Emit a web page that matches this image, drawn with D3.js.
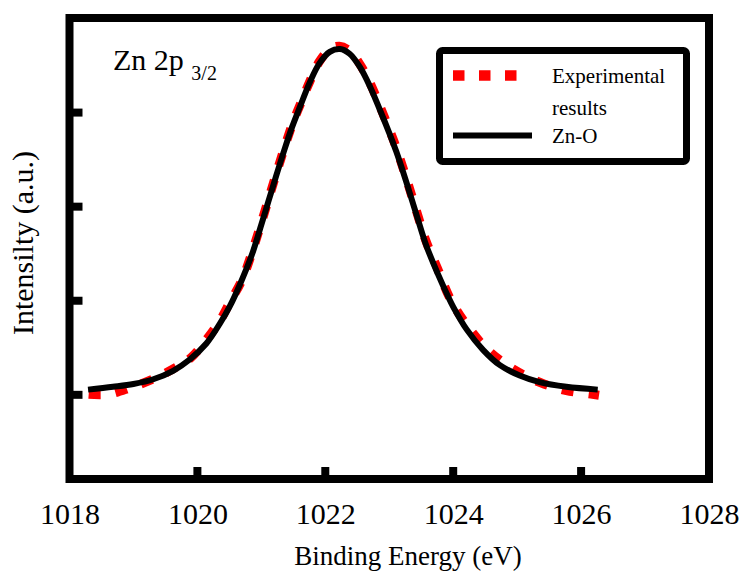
<!DOCTYPE html>
<html>
<head>
<meta charset="utf-8">
<script src="https://cdn.jsdelivr.net/npm/d3@7/dist/d3.min.js"></script>
</head>
<body style="margin:0">
<div id="chart"></div>
<script>
// x tick labels and tick marks
var xLabels = [1018, 1020, 1022, 1024, 1026, 1028];
var xTicks = [1020, 1022, 1024, 1026];
var yTicks = [1, 2, 3, 4];

// Zn-O fit (binding energy, intensity a.u.)
var fitE = [1018.29, 1018.68, 1019.00, 1019.31, 1019.62, 1019.88, 1020.14, 1020.35, 1020.51, 1020.66,
            1020.85, 1020.98, 1021.11, 1021.24, 1021.37, 1021.48, 1021.60, 1021.76, 1021.91, 1022.07,
            1022.23, 1022.38, 1022.54, 1022.70, 1022.85, 1023.01, 1023.11, 1023.27, 1023.43, 1023.58,
            1023.76, 1023.92, 1024.00, 1024.21, 1024.47, 1024.73, 1025.04, 1025.35, 1025.77, 1026.26];
var fitI = [1.05, 1.08, 1.11, 1.16, 1.25, 1.37, 1.54, 1.75, 1.94, 2.16,
            2.48, 2.76, 3.05, 3.34, 3.62, 3.84, 4.05, 4.32, 4.52, 4.64,
            4.67, 4.62, 4.48, 4.27, 4.03, 3.76, 3.58, 3.25, 2.90, 2.58,
            2.28, 2.04, 1.93, 1.69, 1.47, 1.31, 1.20, 1.13, 1.08, 1.05];

// experimental results
var expE = [1018.30, 1018.60, 1018.95, 1019.30, 1019.62, 1019.90, 1020.14, 1020.35, 1020.51, 1020.70,
            1020.85, 1020.98, 1021.11, 1021.24, 1021.37, 1021.50, 1021.62, 1021.76, 1021.91, 1022.07,
            1022.22, 1022.38, 1022.54, 1022.70, 1022.85, 1023.01, 1023.11, 1023.27, 1023.43, 1023.58,
            1023.76, 1023.95, 1024.23, 1024.56, 1024.96, 1025.38, 1025.77, 1026.18, 1026.28];
var expI = [1.00, 1.00, 1.07, 1.16, 1.27, 1.39, 1.58, 1.78, 1.98, 2.22,
            2.50, 2.78, 3.07, 3.36, 3.64, 3.90, 4.10, 4.33, 4.54, 4.67,
            4.70, 4.65, 4.51, 4.31, 4.07, 3.80, 3.62, 3.29, 2.94, 2.62,
            2.33, 2.02, 1.72, 1.46, 1.26, 1.12, 1.04, 1.00, 0.99];

var width = 742, height = 573;
var mLeft = 69.5, mRight = 709, mTop = 18, mBottom = 479;

var svg = d3.select("#chart").append("svg")
  .attr("width", width)
  .attr("height", height)
  .attr("font-family", "Liberation Serif");

var x = d3.scaleLinear().domain([1018, 1028]).range([mLeft, mRight]);
var y = d3.scaleLinear().domain([0.1, 5]).range([mBottom, mTop]);

// curves
var line = d3.line()
  .x(function(d) { return x(d[0]); })
  .y(function(d) { return y(d[1]); })
  .curve(d3.curveCatmullRom);

var expData = expE.map(function(e, i) { return [e, expI[i]]; });
var fitData = fitE.map(function(e, i) { return [e, fitI[i]]; });

svg.append("path")
  .datum(expData)
  .attr("d", line)
  .attr("fill", "none")
  .attr("stroke", "#ff0000")
  .attr("stroke-width", 9)
  .attr("stroke-dasharray", "12,15");

svg.append("path")
  .datum(fitData)
  .attr("d", line)
  .attr("fill", "none")
  .attr("stroke", "#000")
  .attr("stroke-width", 6);

// x tick labels, drawn by the axis
var xAxis = d3.axisBottom(x).tickValues(xLabels).tickSize(0).tickPadding(24)
  .tickFormat(d3.format("d"));
var gx = svg.append("g")
  .attr("transform", "translate(0," + mBottom + ")")
  .call(xAxis);
gx.attr("font-family", "Liberation Serif").attr("font-size", 30);
gx.select(".domain").remove();
gx.selectAll("text").attr("fill", "#000").attr("font-family", "Liberation Serif");

// inward tick marks
svg.append("g").selectAll("line")
  .data(xTicks).enter().append("line")
  .attr("x1", function(d) { return x(d); })
  .attr("x2", function(d) { return x(d); })
  .attr("y1", mBottom)
  .attr("y2", mBottom - 12)
  .attr("stroke", "#000")
  .attr("stroke-width", 8);

var yAxis = d3.axisLeft(y).tickValues(yTicks).tickSize(-13).tickFormat("");
var gy = svg.append("g")
  .attr("transform", "translate(" + mLeft + ",0)")
  .call(yAxis);
gy.select(".domain").remove();
gy.selectAll("line").attr("stroke", "#000").attr("stroke-width", 8);

// frame
svg.append("rect")
  .attr("x", mLeft).attr("y", mTop)
  .attr("width", mRight - mLeft).attr("height", mBottom - mTop)
  .attr("fill", "none")
  .attr("stroke", "#000")
  .attr("stroke-width", 8);

// axis titles
svg.append("text")
  .attr("x", 408).attr("y", 565)
  .attr("text-anchor", "middle")
  .attr("font-family", "Liberation Serif")
  .attr("font-size", 27)
  .text("Binding Energy (eV)");

svg.append("text")
  .attr("transform", "translate(33,243) rotate(-90)")
  .attr("text-anchor", "middle")
  .attr("font-family", "Liberation Serif")
  .attr("font-size", 30)
  .text("Intensilty (a.u.)");

// peak label
var lbl = svg.append("text")
  .attr("x", 113).attr("y", 70)
  .attr("font-family", "Liberation Serif")
  .attr("font-size", 30);
lbl.append("tspan").text("Zn 2p ");
lbl.append("tspan").attr("dy", 10).attr("font-size", 20).text("3/2");

// legend
svg.append("rect")
  .attr("x", 439.5).attr("y", 50.5)
  .attr("width", 247).attr("height", 111)
  .attr("rx", 3)
  .attr("fill", "#fff")
  .attr("stroke", "#000")
  .attr("stroke-width", 7);

svg.append("line")
  .attr("x1", 453).attr("x2", 525)
  .attr("y1", 75.5).attr("y2", 75.5)
  .attr("stroke", "#ff0000")
  .attr("stroke-width", 10.5)
  .attr("stroke-dasharray", "11.5,14.5");

svg.append("line")
  .attr("x1", 453).attr("x2", 532)
  .attr("y1", 135.5).attr("y2", 135.5)
  .attr("stroke", "#000")
  .attr("stroke-width", 6);

var legText = [["Experimental", 83], ["results", 115], ["Zn-O", 143]];
svg.selectAll(".leg").data(legText).enter().append("text")
  .attr("class", "leg")
  .attr("x", 552)
  .attr("y", function(d) { return d[1]; })
  .attr("font-family", "Liberation Serif")
  .attr("font-size", 21)
  .text(function(d) { return d[0]; });
</script>
</body>
</html>
